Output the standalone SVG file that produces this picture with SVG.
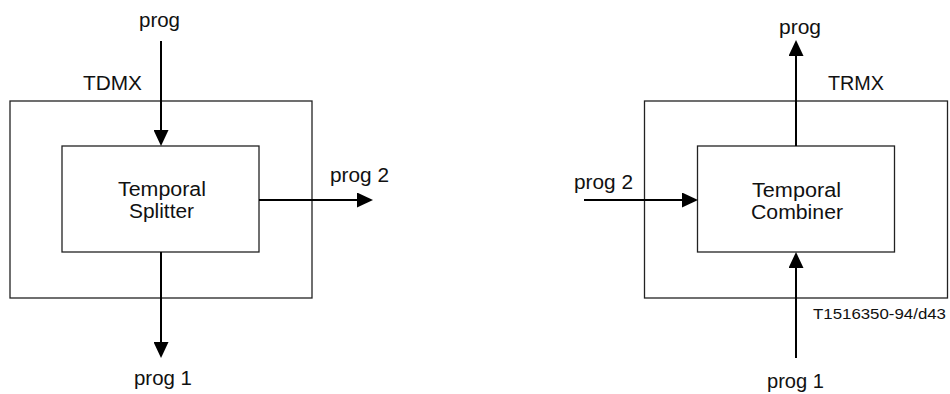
<svg xmlns="http://www.w3.org/2000/svg" width="950" height="394" viewBox="0 0 950 394">
<style>
.box{fill:#fff;stroke:#222;stroke-width:1.3}
.t{font-family:"Liberation Sans",Arial,sans-serif;font-size:20px;fill:#111}
.s{font-family:"Liberation Sans",Arial,sans-serif;font-size:14.5px;fill:#111}
.c{stroke:#000;stroke-width:2;fill:none;marker-end:url(#ah)}
</style>
<defs>
<marker id="ah" markerUnits="userSpaceOnUse" markerWidth="16" markerHeight="15" viewBox="0 0 16 15" refX="0" refY="7.5" orient="auto">
<path d="M0,0 L16,7.5 L0,15 Z" fill="#000"/>
</marker>
</defs>
<g id="tdmx">
<rect class="box" x="10" y="101" width="302" height="197"/>
<text class="t" x="83" y="90" textLength="59" lengthAdjust="spacingAndGlyphs">TDMX</text>
</g>
<g id="splitter">
<rect class="box" x="62" y="146" width="197" height="106"/>
<text class="t" x="118" y="196" textLength="88" lengthAdjust="spacingAndGlyphs">Temporal</text>
<text class="t" x="129" y="218" textLength="65" lengthAdjust="spacingAndGlyphs">Splitter</text>
</g>
<g id="trmx">
<rect class="box" x="644.5" y="101" width="303" height="197"/>
<text class="t" x="828" y="90" textLength="56" lengthAdjust="spacingAndGlyphs">TRMX</text>
</g>
<g id="combiner">
<rect class="box" x="697.5" y="146" width="197" height="106"/>
<text class="t" x="752" y="197" textLength="89" lengthAdjust="spacingAndGlyphs">Temporal</text>
<text class="t" x="751" y="219" textLength="92" lengthAdjust="spacingAndGlyphs">Combiner</text>
</g>
<g id="labels">
<text class="t" x="139" y="27" textLength="41" lengthAdjust="spacingAndGlyphs">prog</text>
<text class="t" x="330" y="182" textLength="59" lengthAdjust="spacingAndGlyphs">prog 2</text>
<text class="t" x="134" y="385" textLength="58" lengthAdjust="spacingAndGlyphs">prog 1</text>
<text class="t" x="779" y="34" textLength="42" lengthAdjust="spacingAndGlyphs">prog</text>
<text class="t" x="574" y="189" textLength="59" lengthAdjust="spacingAndGlyphs">prog 2</text>
<text class="t" x="767" y="388" textLength="57" lengthAdjust="spacingAndGlyphs">prog 1</text>
<text class="s" x="813" y="319" textLength="133" lengthAdjust="spacingAndGlyphs">T1516350-94/d43</text>
</g>
<g id="connectors">
<line class="c" x1="161" y1="41" x2="161" y2="130"/>
<line class="c" x1="161" y1="252" x2="161" y2="342"/>
<line class="c" x1="259" y1="200" x2="357" y2="200"/>
<line class="c" x1="796" y1="146" x2="796" y2="56"/>
<line class="c" x1="796" y1="358" x2="796" y2="268"/>
<line class="c" x1="584" y1="200" x2="682" y2="200"/>
</g>
</svg>
